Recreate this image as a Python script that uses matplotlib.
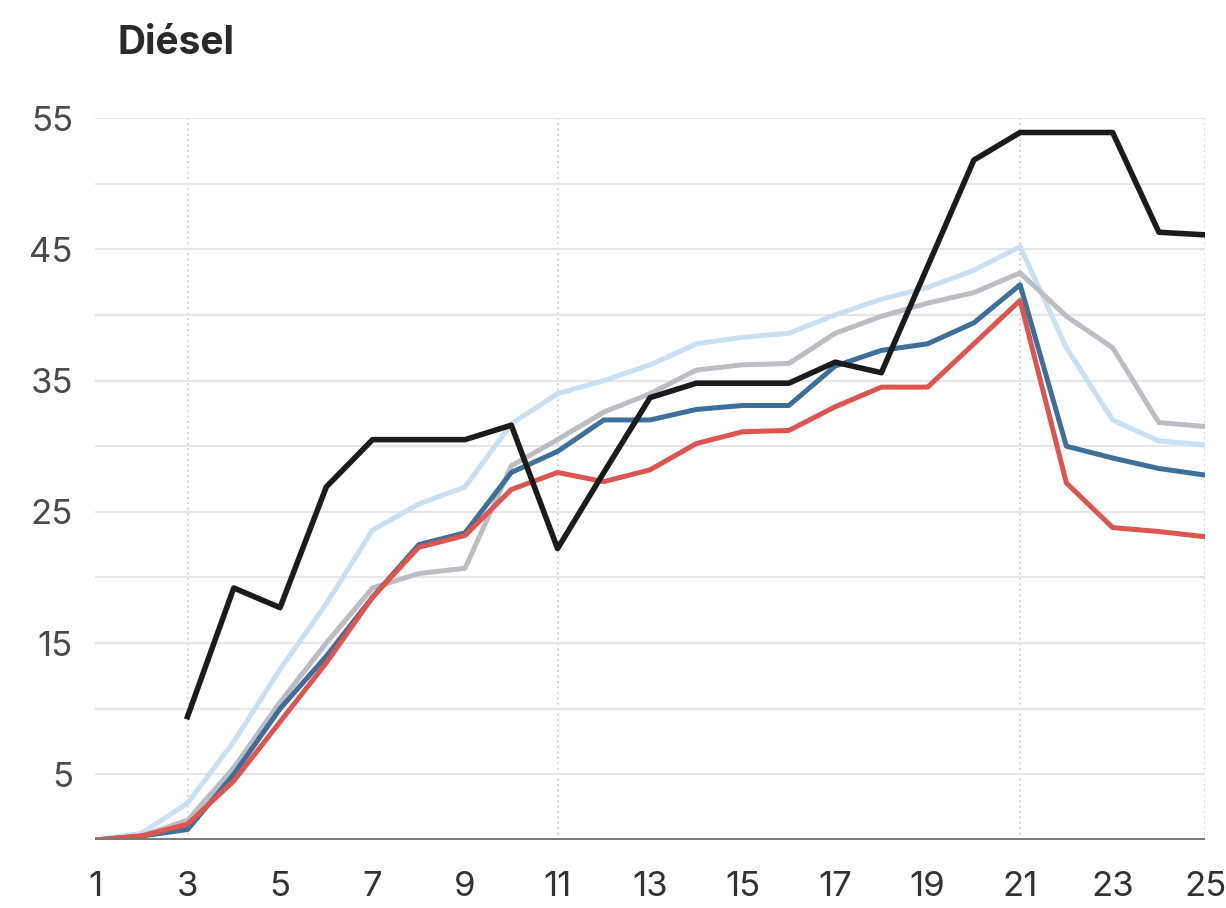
import matplotlib.pyplot as plt
import numpy as np

plt.rcParams['font.family'] = ['Inter', 'DejaVu Sans']

# semaines / days
x = np.arange(1, 26)

# valeurs
light_blue = [0, 0.5, 2.8, 7.5, 13, 18, 23.6, 25.6, 26.9, 31.7, 34, 35, 36.2, 37.8, 38.3, 38.6, 40, 41.2, 42.1, 43.4, 45.2, 37.5, 32, 30.4, 30.1]
gray = [0, 0.3, 1.5, 5.5, 10.5, 15, 19.2, 20.3, 20.7, 28.5, 30.5, 32.6, 34, 35.8, 36.2, 36.3, 38.6, 39.9, 40.9, 41.7, 43.2, 39.9, 37.5, 31.8, 31.5]
blue = [0, 0.3, 0.8, 5, 10, 14, 18.5, 22.5, 23.4, 28, 29.6, 32, 32, 32.8, 33.1, 33.1, 36.1, 37.3, 37.8, 39.4, 42.3, 30, 29.1, 28.3, 27.8]
red = [0, 0.3, 1.2, 4.5, 9, 13.5, 18.5, 22.3, 23.2, 26.7, 28, 27.3, 28.2, 30.2, 31.1, 31.2, 33, 34.5, 34.5, 37.8, 41.1, 27.2, 23.8, 23.5, 23.1]
black_x = np.arange(3, 26)
black = [9.4, 19.2, 17.7, 26.9, 30.5, 30.5, 30.5, 31.6, 22.2, 28, 33.7, 34.8, 34.8, 34.8, 36.4, 35.6, 43.7, 51.8, 53.9, 53.9, 53.9, 46.3, 46.1]

ytick_vals = list(range(5, 56, 5))
xtick_vals = list(range(1, 26, 2))
vlines_x = [3, 11, 21, 25]

fig = plt.figure(figsize=(12.26, 9.08), dpi=100)
ax = fig.add_axes([0.0775, 0.0749, 0.9055, 0.7951])

for v in vlines_x:
    ax.axvline(v, color='#cfcfcf', lw=1.3, ls=(0, (1, 2)), zorder=1)

ax.plot(x, light_blue, color='#c8e0f2', lw=3.6, zorder=2)
ax.plot(x, gray, color='#bcbcc4', lw=3.6, zorder=2)
ax.plot(x, blue, color='#3d6f98', lw=3.6, zorder=3)
ax.plot(x, red, color='#dc5550', lw=3.6, zorder=3)
ax.plot(black_x, black, color='#1b1b1b', lw=4, zorder=4)

ax.axhline(0, color='#7a7a7a', lw=2.8, zorder=5)

ax.set_xlim(1, 25)
ax.set_ylim(0, 55)
ax.set_yticks(ytick_vals)
ax.set_yticklabels([str(v) if v % 10 == 5 else '' for v in ytick_vals])
ax.set_xticks(xtick_vals)
ax.set_xticklabels([str(v) for v in xtick_vals])
ax.grid(axis='y', color='#e6e6e6', lw=1.5, zorder=0)
ax.tick_params(axis='y', length=0, pad=16, labelsize=25, labelcolor='#4a4a4a')
ax.tick_params(axis='x', length=0, pad=22, labelsize=25, labelcolor='#333333')
for s in ax.spines.values():
    s.set_visible(False)

fig.text(0.096, 0.952, 'Diésel', fontsize=28, fontweight='bold', color='#2a2a2a', va='center')

fig.savefig('out.png', dpi=100)
